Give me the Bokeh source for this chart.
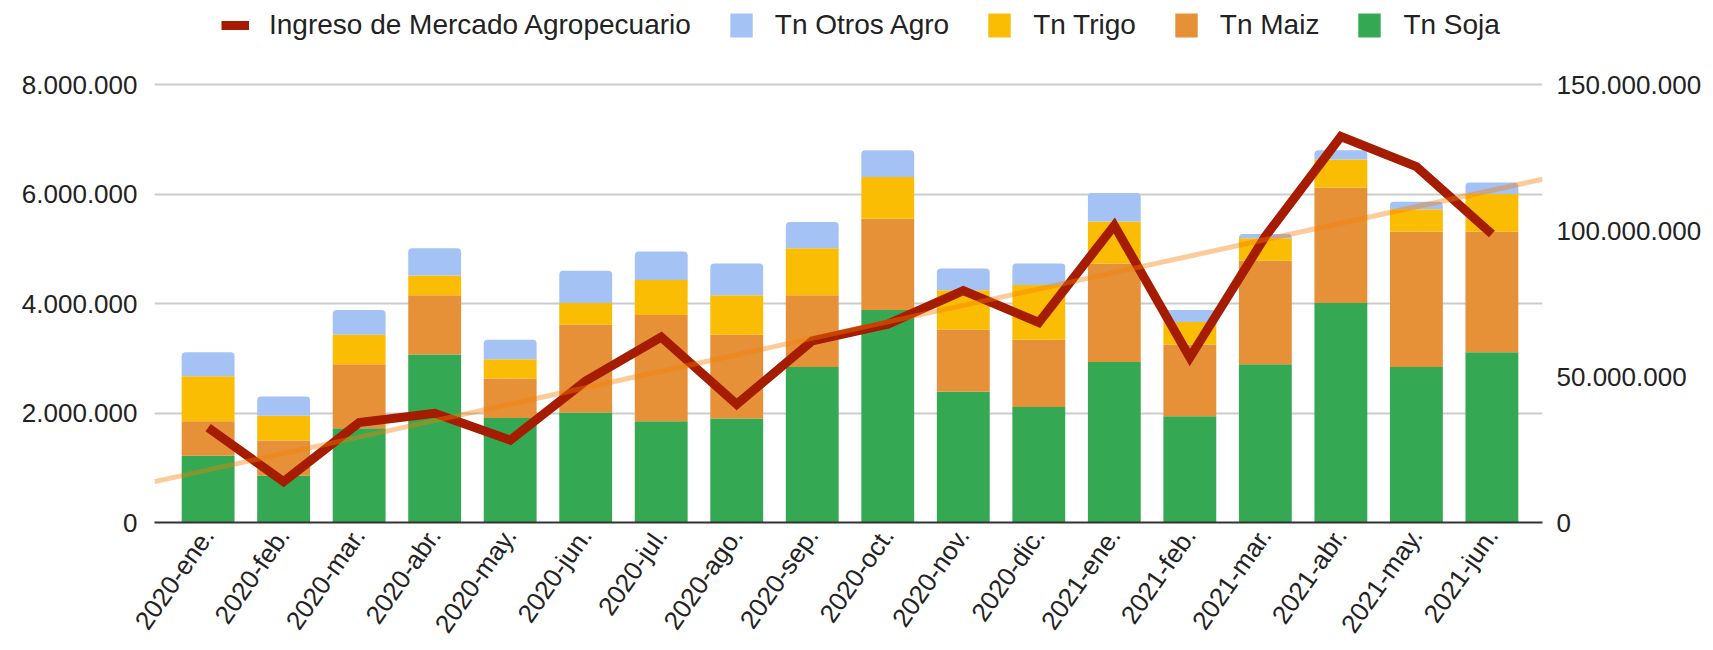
import math
import numpy as np
from bokeh.plotting import figure
from bokeh.models import (ColumnDataSource, Range1d, LinearAxis, FixedTicker,
                          Legend, LegendItem)
from bokeh.transform import stack
from bokeh.embed import file_html
from bokeh.resources import INLINE

months = ["2020-ene.", "2020-feb.", "2020-mar.", "2020-abr.", "2020-may.", "2020-jun.",
          "2020-jul.", "2020-ago.", "2020-sep.", "2020-oct.", "2020-nov.", "2020-dic.",
          "2021-ene.", "2021-feb.", "2021-mar.", "2021-abr.", "2021-may.", "2021-jun."]

tn_soja = [1.22e6, 0.86e6, 1.72e6, 3.07e6, 1.91e6, 2.01e6, 1.85e6, 1.90e6, 2.84e6,
           3.88e6, 2.39e6, 2.11e6, 2.93e6, 1.94e6, 2.89e6, 4.01e6, 2.84e6, 3.11e6]
tn_maiz = [0.63e6, 0.64e6, 1.17e6, 1.08e6, 0.72e6, 1.60e6, 1.94e6, 1.53e6, 1.31e6,
           1.67e6, 1.13e6, 1.23e6, 1.80e6, 1.31e6, 1.89e6, 2.11e6, 2.47e6, 2.20e6]
tn_trigo = [0.82e6, 0.45e6, 0.54e6, 0.36e6, 0.35e6, 0.40e6, 0.64e6, 0.72e6, 0.86e6,
            0.76e6, 0.72e6, 1.00e6, 0.77e6, 0.41e6, 0.41e6, 0.51e6, 0.41e6, 0.69e6]
tn_otros = [0.44e6, 0.35e6, 0.45e6, 0.50e6, 0.36e6, 0.59e6, 0.52e6, 0.58e6, 0.48e6,
            0.49e6, 0.40e6, 0.39e6, 0.52e6, 0.22e6, 0.08e6, 0.17e6, 0.14e6, 0.21e6]
ingreso = [32.5e6, 14.0e6, 34.2e6, 37.4e6, 28.2e6, 48.5e6, 63.5e6, 40.5e6, 62.2e6,
           67.9e6, 79.4e6, 68.5e6, 101.7e6, 56.5e6, 98.0e6, 132.2e6, 121.9e6, 98.8e6]

left_ticks = [0, 2e6, 4e6, 6e6, 8e6]
left_labels = ["0", "2.000.000", "4.000.000", "6.000.000", "8.000.000"]
right_ticks = [0, 50e6, 100e6, 150e6]
right_labels = ["0", "50.000.000", "100.000.000", "150.000.000"]

FONT = "Liberation Sans"
TXT = "#222222"
C_SOJA, C_MAIZ, C_TRIGO, C_OTROS = "#34a853", "#e69138", "#fbbc04", "#a4c2f4"
x = list(range(len(months)))

src = ColumnDataSource(dict(x=x, soja=tn_soja, maiz=tn_maiz, trigo=tn_trigo,
                            otros=tn_otros, ingreso=ingreso))

# frame extends to the top of the figure so the legend can sit inside it;
# the 8.000.000 line lies 84px below the top of a 522px-tall frame.
FRAME_H = 522
TOP_GAP = 84
stretch = FRAME_H / (FRAME_H - TOP_GAP)

x0, x1 = -0.71, 17.67
p = figure(width=1713, height=650, output_backend="svg", toolbar_location=None,
           x_range=Range1d(x0, x1), y_range=Range1d(0, 8e6 * stretch),
           min_border_left=154, min_border_right=171, min_border_top=0,
           min_border_bottom=650 - FRAME_H)
p.extra_y_ranges = {"right": Range1d(0, 150e6 * stretch)}
p.outline_line_color = None
p.background_fill_color = "white"
p.border_fill_color = "white"

W = 0.7
r_soja = p.vbar(x="x", width=W, bottom=0, top=stack("soja"), color=C_SOJA,
                line_color=None, source=src)
r_maiz = p.vbar(x="x", width=W, bottom=stack("soja"), top=stack("soja", "maiz"),
                color=C_MAIZ, line_color=None, source=src)
r_trigo = p.vbar(x="x", width=W, bottom=stack("soja", "maiz"),
                 top=stack("soja", "maiz", "trigo"), color=C_TRIGO,
                 line_color=None, source=src)
r_otros = p.vbar(x="x", width=W, bottom=stack("soja", "maiz", "trigo"),
                 top=stack("soja", "maiz", "trigo", "otros"), color=C_OTROS,
                 line_color=None, source=src, border_radius=(4, 4, 0, 0))

line_r = p.line("x", "ingreso", source=src, y_range_name="right",
                line_color="#a61c00", line_width=9, line_join="miter")

slope, icpt = np.polyfit(np.array(x, dtype=float), np.array(ingreso), 1)
p.line([x0, x1], [icpt + slope * x0, icpt + slope * x1], y_range_name="right",
       line_color="#f57c00", line_alpha=0.4, line_width=5)

# axes
p.xaxis.ticker = FixedTicker(ticks=x)
p.xaxis.major_label_overrides = {i: m for i, m in enumerate(months)}
p.xaxis.major_label_orientation = math.radians(55)
p.xaxis.major_tick_line_color = None
p.xaxis.major_tick_out = 0
p.xaxis.major_tick_in = 0
p.xaxis.minor_tick_line_color = None
p.xaxis.axis_line_color = "#333333"
p.xaxis.axis_line_width = 2
p.xaxis.major_label_text_font = FONT
p.xaxis.major_label_text_font_size = "26px"
p.xaxis.major_label_text_color = TXT
p.xaxis.major_label_standoff = 8

p.yaxis.ticker = FixedTicker(ticks=left_ticks)
p.yaxis.major_label_overrides = {t: l for t, l in zip(left_ticks, left_labels)}
p.yaxis.axis_line_color = None
p.yaxis.major_tick_line_color = None
p.yaxis.major_tick_out = 0
p.yaxis.major_tick_in = 0
p.yaxis.minor_tick_line_color = None
p.yaxis.major_label_text_font = FONT
p.yaxis.major_label_text_font_size = "26px"
p.yaxis.major_label_text_color = TXT
p.yaxis.major_label_standoff = 17

ra = LinearAxis(y_range_name="right", ticker=FixedTicker(ticks=right_ticks))
ra.major_label_overrides = {t: l for t, l in zip(right_ticks, right_labels)}
ra.axis_line_color = None
ra.major_tick_line_color = None
ra.major_tick_out = 0
ra.major_tick_in = 0
ra.minor_tick_line_color = None
ra.major_label_text_font = FONT
ra.major_label_text_font_size = "26px"
ra.major_label_text_color = TXT
ra.major_label_standoff = 14
p.add_layout(ra, "right")

p.xgrid.grid_line_color = None
p.ygrid.ticker = FixedTicker(ticks=left_ticks[1:])
p.ygrid.grid_line_color = "#cccccc"
p.ygrid.grid_line_width = 2

legend = Legend(items=[
    LegendItem(label="Ingreso de Mercado Agropecuario", renderers=[line_r]),
    LegendItem(label="Tn Otros Agro", renderers=[r_otros]),
    LegendItem(label="Tn Trigo", renderers=[r_trigo]),
    LegendItem(label="Tn Maiz", renderers=[r_maiz]),
    LegendItem(label="Tn Soja", renderers=[r_soja]),
], orientation="horizontal", location=(67, 481))
legend.label_text_font = FONT
legend.label_text_font_size = "28px"
legend.label_text_color = TXT
legend.glyph_width = 28
legend.glyph_height = 30
legend.label_standoff = 20
legend.spacing = 36
legend.margin = 0
legend.padding = 2
legend.border_line_color = None
legend.background_fill_alpha = 0
p.add_layout(legend, "center")

open("out.html", "w").write(file_html(p, INLINE))
